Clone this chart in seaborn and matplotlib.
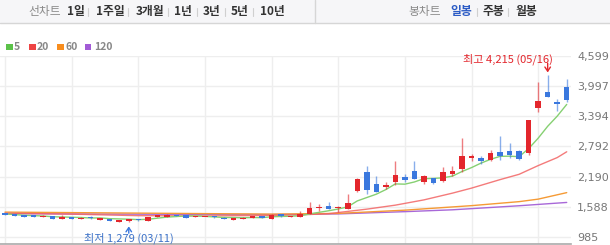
import matplotlib
matplotlib.use('Agg')
import matplotlib.pyplot as plt
import seaborn as sns
from matplotlib.patches import Rectangle
from matplotlib.lines import Line2D

# ---------------- data ----------------
opens = [1460, 1447, 1420, 1415, 1385, 1400, 1350, 1380, 1350, 1365,
         1330, 1345, 1290, 1310, 1340, 1306, 1387, 1392, 1425, 1418,
         1380, 1378, 1385, 1372, 1332, 1346, 1367, 1400, 1346, 1447,
         1385, 1380, 1447, 1570, 1608, 1555, 1547, 1895, 2284, 2035,
         1983, 2083, 2176, 2296, 2075, 2164, 2103, 2244, 2350, 2565,
         2557, 2517, 2678, 2692, 2698, 2658, 3569, 3870, 3682, 3971]
highs = [1468, 1450, 1424, 1418, 1420, 1404, 1420, 1384, 1374, 1395,
         1364, 1348, 1330, 1350, 1344, 1392, 1432, 1437, 1430, 1422,
         1394, 1390, 1405, 1376, 1364, 1376, 1412, 1404, 1437, 1452,
         1400, 1507, 1688, 1642, 1674, 1594, 1848, 2160, 2397, 2210,
         2083, 2511, 2244, 2497, 2220, 2170, 2391, 2397, 2953, 2645,
         2597, 2712, 2993, 2866, 2718, 3320, 4071, 4215, 3750, 4138]
lows = [1428, 1400, 1376, 1388, 1382, 1346, 1346, 1346, 1346, 1340,
        1326, 1308, 1286, 1279, 1310, 1300, 1383, 1388, 1396, 1368,
        1376, 1374, 1360, 1342, 1328, 1342, 1363, 1363, 1342, 1390,
        1381, 1375, 1440, 1513, 1540, 1487, 1540, 1875, 1848, 1875,
        1943, 2030, 2083, 2140, 2049, 2043, 2083, 2210, 2284, 2505,
        2451, 2505, 2531, 2557, 2525, 2618, 3481, 3780, 3501, 3690]
closes = [1432, 1405, 1380, 1392, 1412, 1350, 1385, 1350, 1370, 1358,
          1360, 1312, 1325, 1345, 1315, 1387, 1427, 1432, 1400, 1372,
          1390, 1386, 1378, 1346, 1360, 1372, 1407, 1367, 1432, 1394,
          1395, 1447, 1561, 1590, 1547, 1570, 1662, 2150, 1929, 1883,
          2030, 2230, 2124, 2150, 2210, 2055, 2290, 2296, 2611, 2598,
          2505, 2665, 2598, 2625, 2545, 3314, 3702, 3790, 3636, 3716]

ma5 = [1445, 1432, 1418, 1410, 1404, 1388, 1384, 1378, 1373, 1363,
       1365, 1350, 1345, 1340, 1331, 1337, 1360, 1381, 1392, 1404,
       1404, 1396, 1385, 1374, 1372, 1368, 1373, 1370, 1388, 1394,
       1399, 1407, 1446, 1477, 1508, 1543, 1586, 1704, 1772, 1839,
       1931, 2044, 2039, 2083, 2149, 2154, 2166, 2200, 2292, 2370,
       2460, 2535, 2595, 2598, 2588, 2749, 2957, 3195, 3397, 3632]
ma20_idx = [0, 7, 14, 21, 28, 31, 34, 38, 41, 44, 47, 49, 52, 54, 56, 58, 59]
ma20 = [1460, 1440, 1410, 1405, 1415, 1425, 1450, 1540, 1620, 1725,
        1860, 1960, 2130, 2236, 2410, 2570, 2686]
ma60_idx = [0, 14, 28, 35, 42, 49, 54, 56, 59]
ma60 = [1481, 1461, 1441, 1455, 1520, 1610, 1690, 1740, 1870]
ma120_idx = [0, 14, 28, 35, 42, 47, 54, 59]
ma120 = [1450, 1440, 1432, 1445, 1490, 1527, 1608, 1674]

ma_labels = ['5', '20', '60', '120']
y_ticks = [985, 1588, 2190, 2792, 3394, 3997, 4599]
period_labels = ['1일', '1주일', '3개월', '1년', '3년', '5년', '10년']
candle_labels = ['일봉', '주봉', '월봉']
low_idx, low_date = 13, '03/11'
high_idx, high_date = 57, '05/16'

# ---------------- style ----------------
sns.set_style('white')
plt.rcParams['font.family'] = ['Noto Sans CJK KR', 'DejaVu Sans']

RED = '#e3262c'
BLUE = '#3a78de'
MA_COLORS = ['#86d072', '#f26464', '#f59a35', '#a868d8']
LEG_COLORS = ['#5cc24a', '#ee4444', '#f88d1e', '#a25bd6']

W, H = 610, 245
fig = plt.figure(figsize=(W / 100, H / 100), dpi=100)
fig.patch.set_facecolor('white')


def fx(px):
    return px / W


def fy(py):
    return 1 - py / H


# ---------------- header ----------------
fig.patches.append(Rectangle((0, fy(23)), 1, 1 - fy(23), transform=fig.transFigure,
                             facecolor='#f6f6f8', edgecolor='none', zorder=0))
fig.add_artist(Line2D([0, 1], [fy(23), fy(23)], transform=fig.transFigure,
                      color='#d6d6d6', lw=1))
fig.add_artist(Line2D([fx(315), fx(315)], [fy(0), fy(23)], transform=fig.transFigure,
                      color='#d6d6d6', lw=1))

hy = fy(12)
fig.text(fx(45), hy, '선차트', ha='center', va='center', fontsize=8.5, color='#8a8a8a')
p_centers = [76, 110, 150, 183, 212, 240, 272]
seps = [88, 128, 168, 197, 225, 253]
for lab, cx in zip(period_labels, p_centers):
    fig.text(fx(cx), hy, lab, ha='center', va='center', fontsize=8.5,
             color='#333333', fontweight='bold')
for sx in seps:
    fig.add_artist(Line2D([fx(sx), fx(sx)], [fy(8), fy(16)], transform=fig.transFigure,
                          color='#d0d0d0', lw=0.8))

fig.text(fx(425), hy, '봉차트', ha='center', va='center', fontsize=8.5, color='#8a8a8a')
c_centers = [461, 493, 526]
c_colors = ['#2c5cc5', '#333333', '#333333']
for lab, cx, cc in zip(candle_labels, c_centers, c_colors):
    fig.text(fx(cx), hy, lab, ha='center', va='center', fontsize=8.5,
             color=cc, fontweight='bold')
for sx in [477, 508]:
    fig.add_artist(Line2D([fx(sx), fx(sx)], [fy(8), fy(16)], transform=fig.transFigure,
                          color='#d0d0d0', lw=0.8))

# ---------------- legend ----------------
sq_x = [6, 29, 57, 85]
tx_x = [14, 37, 65, 94]
for lab, c, sx, tx in zip(ma_labels, LEG_COLORS, sq_x, tx_x):
    fig.patches.append(Rectangle((fx(sx), fy(50.5)), fx(6.5), fy(44) - fy(50.5),
                                 transform=fig.transFigure, facecolor=c, edgecolor='none'))
    fig.text(fx(tx), fy(47.3), lab, ha='left', va='center', fontsize=7.5,
             color='#888888', fontweight='bold')

# ---------------- chart ----------------
ax = fig.add_axes([0, fy(244), fx(571), fy(56) - fy(244)])
ax.set_facecolor('white')

idx = list(range(len(closes)))
sns.lineplot(x=ma120_idx, y=ma120, ax=ax, color=MA_COLORS[3], lw=1.0, zorder=2)
sns.lineplot(x=ma60_idx, y=ma60, ax=ax, color=MA_COLORS[2], lw=1.0, zorder=2)
sns.lineplot(x=ma20_idx, y=ma20, ax=ax, color=MA_COLORS[1], lw=1.0, alpha=0.85, zorder=2)
sns.lineplot(x=idx, y=ma5, ax=ax, color=MA_COLORS[0], lw=1.0, zorder=2)

for i, (o, h, l, c) in enumerate(zip(opens, highs, lows, closes)):
    col = RED if c >= o else BLUE
    ax.vlines(i, l, h, color=col, lw=1.0, alpha=0.6, zorder=3)
    bottom = min(o, c)
    height = max(abs(c - o), 22)
    ax.bar(i, height, bottom=bottom, width=0.58, color=col, linewidth=0, zorder=4)

ax.set_xlim(-0.525, 59.45)
ax.set_ylim(844, 4599)

ax.set_xticks(list(range(0, 60, 7)))
ax.set_xticklabels([])
ax.set_yticks(y_ticks)
ax.set_yticklabels([f'{v:,}' for v in y_ticks])
ax.yaxis.tick_right()
ax.tick_params(axis='both', length=0)
ax.tick_params(axis='y', labelsize=8, labelcolor='#777777', pad=4.5)
ax.grid(True, color='#eeeeee', lw=1)
ax.set_axisbelow(True)
ax.set_xlabel('')
ax.set_ylabel('')
for s in ['top', 'left', 'right']:
    ax.spines[s].set_visible(False)
ax.spines['bottom'].set_color('#aaaaaa')
ax.spines['bottom'].set_linewidth(1.2)
for lbl in ax.get_yticklabels():
    lbl.set_family('DejaVu Sans')

# annotations
hv = highs[high_idx]
ax.annotate('', xy=(high_idx, hv), xytext=(0, 12), textcoords='offset pixels',
            arrowprops=dict(arrowstyle='->,head_length=0.3,head_width=0.2', color=RED,
                            lw=1.0, shrinkA=0, shrinkB=2), annotation_clip=False)
ax.annotate(f'최고 {hv:,} ({high_date})', xy=(high_idx, hv), xytext=(5, 16),
            textcoords='offset pixels', ha='right', va='center', fontsize=8,
            color=RED, annotation_clip=False)

lv = lows[low_idx]
ax.annotate('', xy=(low_idx, lv), xytext=(0, -11), textcoords='offset pixels',
            arrowprops=dict(arrowstyle='->,head_length=0.3,head_width=0.2', color=BLUE,
                            lw=1.0, shrinkA=0, shrinkB=3), annotation_clip=False)
ax.annotate(f'최저 {lv:,} ({low_date})', xy=(low_idx, lv), xytext=(0, -16),
            textcoords='offset pixels', ha='center', va='center', fontsize=8,
            color='#3c72c8', annotation_clip=False)

fig.savefig('out.png', dpi=100)
